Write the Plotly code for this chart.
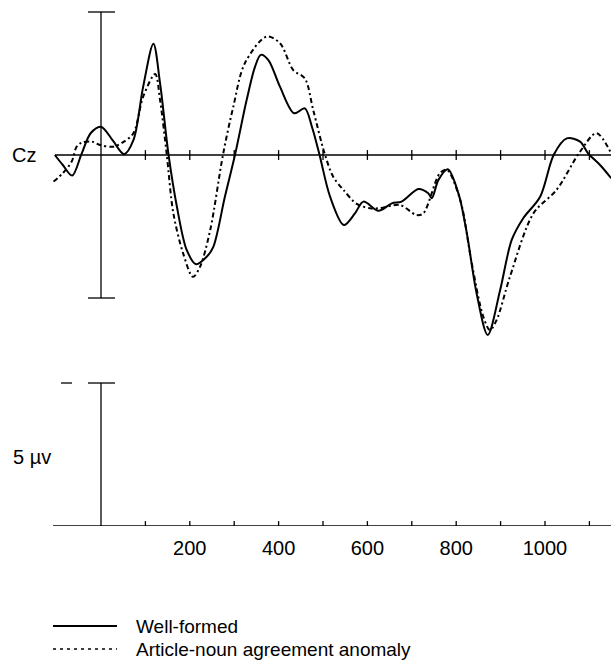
import plotly.graph_objects as go

# ---------------- data (ms, µV; negative plotted up) ----------------
time_wf = [-104, -86, -65, -44, -23, 0, 26, 52, 73, 95, 118, 133, 152, 171, 193, 214, 238, 253,
           279, 302, 328, 347, 360, 377, 403, 435, 459, 475, 492, 516, 547, 572, 591, 625, 655,
           677, 715, 737, 745, 760, 781, 805, 824, 846, 871, 899, 925, 951, 989, 1020, 1049,
           1079, 1097, 1124, 1149]
well_formed = [0.0, 0.35, 0.72, -0.03, -0.77, -0.99, -0.52, -0.03, -0.52, -2.39, -3.89, -2.51,
               -0.02, 1.81, 3.32, 3.82, 3.56, 3.21, 1.46, -0.02, -1.92, -3.09, -3.50, -3.32,
               -2.39, -1.46, -1.63, -0.99, -0.02, 1.46, 2.45, 2.04, 1.63, 1.95, 1.69, 1.63, 1.19,
               1.34, 1.51, 0.87, 0.50, 1.34, 2.74, 4.84, 6.29, 4.72, 2.97, 2.21, 1.46, -0.02,
               -0.58, -0.47, -0.06, 0.35, 0.81]

time_an = [-107, -85, -66, -55, -44, -21, -2, 28, 50, 73, 95, 122, 133, 148, 163, 185, 207, 223,
           246, 275, 298, 324, 373, 403, 433, 459, 478, 504, 523, 546, 576, 606, 628, 673, 711,
           726, 763, 779, 809, 835, 861, 876, 891, 921, 974, 1026, 1079, 1116, 1149]
anomaly = [0.93, 0.62, 0.23, -0.29, -0.43, -0.47, -0.35, -0.29, -0.45, -0.76, -2.04, -2.83,
           -1.92, -0.03, 2.04, 3.44, 4.26, 3.91, 2.62, -0.03, -1.69, -3.21, -4.14, -3.91, -2.97,
           -2.68, -1.57, -0.03, 0.76, 1.22, 1.71, 1.86, 1.86, 1.75, 2.10, 2.04, 0.64, 0.52,
           1.57, 3.79, 5.65, 6.12, 5.77, 4.26, 2.04, 1.22, -0.12, -0.76, -0.06]

tick_ms = [100, 200, 300, 400, 500, 600, 700, 800, 900, 1000, 1100]
label_ms = [200, 400, 600, 800, 1000]
CAL_UV = 5
series_names = ["Well-formed", "Article-noun agreement anomaly"]
channel = "Cz"

# ---------------- geometry ----------------
W, H = 611, 663
X0_PX = 101.0          # pixel of t = 0
PX_PER_MS = 0.444
PX_PER_UV = 28.6
BASE_TOP_PX = 155.0
BASE_BOT_PX = 526.0
TOP_DOM_PX = (0, 350)
BOT_DOM_PX = (358, 526)

x_range = [-X0_PX / PX_PER_MS, (W - X0_PX) / PX_PER_MS]
top_range = [(TOP_DOM_PX[1] - BASE_TOP_PX) / PX_PER_UV, (TOP_DOM_PX[0] - BASE_TOP_PX) / PX_PER_UV]
bot_range = [(BOT_DOM_PX[1] - BASE_BOT_PX) / PX_PER_UV, (BOT_DOM_PX[0] - BASE_BOT_PX) / PX_PER_UV]

def ms(px):
    return (px - X0_PX) / PX_PER_MS

FONT = "Liberation Sans, Arial, Helvetica, sans-serif"
DASH = "5px,3px,2px,3px"

fig = go.Figure()
fig.add_trace(go.Scatter(x=time_wf, y=well_formed, mode="lines", name=series_names[0],
                         line=dict(color="black", width=2, shape="spline", smoothing=0.9),
                         xaxis="x", yaxis="y", showlegend=False))
fig.add_trace(go.Scatter(x=time_an, y=anomaly, mode="lines", name=series_names[1],
                         line=dict(color="black", width=2, dash=DASH, shape="spline", smoothing=0.9),
                         xaxis="x", yaxis="y", showlegend=False))

# tick marks crossing the two baselines
tick_marker = dict(symbol="line-ns", size=7, line=dict(color="black", width=1.3), color="black")
fig.add_trace(go.Scatter(x=tick_ms, y=[0] * len(tick_ms), mode="markers", marker=tick_marker,
                         xaxis="x", yaxis="y", showlegend=False, hoverinfo="skip"))
fig.add_trace(go.Scatter(x=tick_ms, y=[0] * len(tick_ms), mode="markers", marker=tick_marker,
                         xaxis="x", yaxis="y2", showlegend=False, hoverinfo="skip"))

shapes = []
ln = dict(color="black", width=1.3)
cap_l, cap_r = ms(88), ms(115)
# top panel axes
shapes.append(dict(type="line", xref="x", yref="y", x0=ms(55), x1=x_range[1] + 5, y0=0, y1=0, line=ln))
shapes.append(dict(type="line", xref="x", yref="y", x0=0, x1=0, y0=-CAL_UV, y1=CAL_UV, line=ln))
shapes.append(dict(type="line", xref="x", yref="y", x0=cap_l, x1=cap_r, y0=-CAL_UV, y1=-CAL_UV, line=ln))
shapes.append(dict(type="line", xref="x", yref="y", x0=cap_l, x1=cap_r, y0=CAL_UV, y1=CAL_UV, line=ln))
# bottom calibration panel
shapes.append(dict(type="line", xref="x", yref="y2", x0=ms(53), x1=x_range[1] + 5, y0=0, y1=0, line=ln))
shapes.append(dict(type="line", xref="x", yref="y2", x0=0, x1=0, y0=-CAL_UV, y1=0.17, line=ln))
shapes.append(dict(type="line", xref="x", yref="y2", x0=cap_l, x1=cap_r, y0=-CAL_UV, y1=-CAL_UV, line=ln))
shapes.append(dict(type="line", xref="x", yref="y2", x0=ms(61), x1=ms(72), y0=-CAL_UV, y1=-CAL_UV, line=ln))

# legend (manual)
leg_rows_px = [626, 649]
for i, ypx in enumerate(leg_rows_px):
    shapes.append(dict(type="line", xref="paper", yref="paper", x0=53 / W, x1=117 / W,
                       y0=1 - ypx / H, y1=1 - ypx / H,
                       line=dict(color="black", width=2 if i == 0 else 1.6,
                                 dash="solid" if i == 0 else "3px,4px")))

annotations = [
    dict(text=channel, x=ms(38), y=0, xref="x", yref="y", xanchor="right", yanchor="middle",
         showarrow=False, font=dict(size=20, color="black", family=FONT)),
    dict(text=f"{CAL_UV} µv", x=ms(53), y=-2.4, xref="x", yref="y2", xanchor="right",
         yanchor="middle", showarrow=False, font=dict(size=20, color="black", family=FONT)),
]
for name, ypx in zip(series_names, leg_rows_px):
    annotations.append(dict(text=name, x=134 / W, y=1 - ypx / H, xref="paper", yref="paper",
                            xanchor="left", yanchor="middle", showarrow=False,
                            font=dict(size=19, color="black", family=FONT)))

fig.update_layout(
    width=W, height=H, autosize=False,
    margin=dict(l=0, r=0, t=0, b=0, pad=0),
    paper_bgcolor="white", plot_bgcolor="rgba(0,0,0,0)",
    showlegend=False,
    font=dict(family=FONT, size=20, color="black"),
    xaxis=dict(range=x_range, anchor="y2", showgrid=False, zeroline=False, showline=False,
               ticks="", tickvals=label_ms, ticktext=[str(v) for v in label_ms],
               tickfont=dict(size=20, color="black", family=FONT), ticklabelstandoff=8),
    yaxis=dict(domain=[1 - TOP_DOM_PX[1] / H, 1 - TOP_DOM_PX[0] / H], range=top_range,
               visible=False, anchor="x"),
    yaxis2=dict(domain=[1 - BOT_DOM_PX[1] / H, 1 - BOT_DOM_PX[0] / H], range=bot_range,
                visible=False, anchor="x"),
    shapes=shapes, annotations=annotations,
)

fig.write_html("out.html")
